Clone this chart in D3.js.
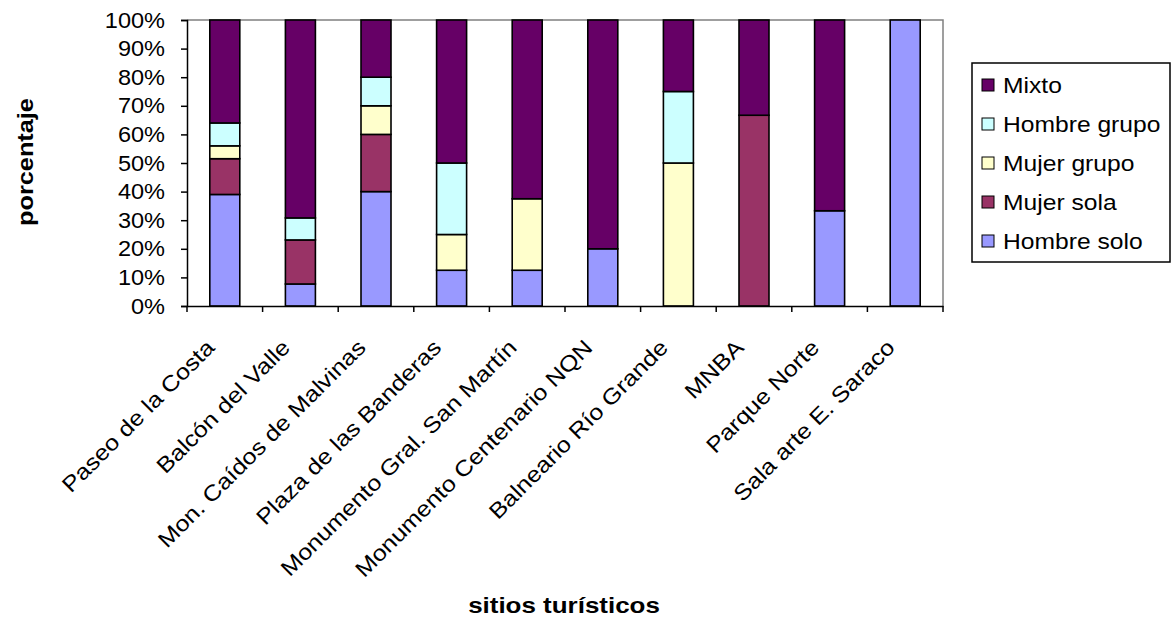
<!DOCTYPE html>
<html><head><meta charset="utf-8">
<script src="https://cdn.jsdelivr.net/npm/d3@7"></script>
<style>body{margin:0;background:#fff;} text{font-family:"Liberation Sans",Arial,sans-serif;fill:#000;}</style>
</head><body><svg id="c" width="1171" height="619"></svg>
<script>
const categories = ["Paseo de la Costa","Balcón del Valle","Mon. Caídos de Malvinas","Plaza de las Banderas","Monumento Gral. San Martín","Monumento Centenario NQN","Balneario Río Grande","MNBA","Parque Norte","Sala arte E. Saraco"];
const seriesNames = ["Hombre solo","Mujer sola","Mujer grupo","Hombre grupo","Mixto"];
const hombreSolo  = [39, 7.7, 40, 12.5, 12.5, 20, 0, 0, 33.3, 100];
const mujerSola   = [12.5, 15.4, 20, 0, 0, 0, 0, 66.7, 0, 0];
const mujerGrupo  = [4.5, 0, 10, 12.5, 25, 0, 50, 0, 0, 0];
const hombreGrupo = [8, 7.7, 10, 25, 0, 0, 25, 0, 0, 0];
const mixto       = [36, 69.2, 20, 50, 62.5, 80, 25, 33.3, 66.7, 0];
const colors = ["#9999FF","#993366","#FFFFCC","#CCFFFF","#660066"];
const yTicks = [0,10,20,30,40,50,60,70,80,90,100];

const svg = d3.select("#c");
const m = {l:187, r:943, t:20, b:306};
const xb = d3.scaleBand().domain(categories).range([m.l, m.r]);
const y = d3.scaleLinear().domain([0,100]).range([m.b, m.t]);

const table = categories.map((c,i)=>({cat:c, "Hombre solo":hombreSolo[i], "Mujer sola":mujerSola[i], "Mujer grupo":mujerGrupo[i], "Hombre grupo":hombreGrupo[i], "Mixto":mixto[i]}));
const stack = d3.stack().keys(seriesNames)(table);

// plot border
svg.append("path").attr("d",`M${m.l},${m.t}H${m.r}V${m.b}`).attr("fill","none").attr("stroke","#808080").attr("stroke-width",1.5);

stack.forEach((s,k)=>{
  svg.append("g").selectAll("rect").data(s).join("rect")
    .attr("x", d=>xb(d.data.cat)+xb.bandwidth()/2-15)
    .attr("width", 30)
    .attr("y", d=>y(d[1]))
    .attr("height", d=>y(d[0])-y(d[1]))
    .attr("fill", colors[k])
    .attr("stroke", "#000").attr("stroke-width", 1.6);
});

// y axis
const ya = svg.append("g").attr("transform",`translate(${m.l},0)`)
  .call(d3.axisLeft(y).tickValues(yTicks).tickFormat(d=>d+"%").tickSize(6).tickPadding(0));
ya.select(".domain").attr("stroke","#000").attr("stroke-width",1.5);
ya.selectAll(".tick line").attr("stroke","#000").attr("stroke-width",1.5);
ya.selectAll(".tick text").attr("font-size",22).attr("x",0)
  .attr("transform","translate(-22,0) scale(1.07,1)").attr("text-anchor","end");

// x axis
const xa = svg.append("g").attr("transform",`translate(0,${m.b})`)
  .call(d3.axisBottom(xb).tickSize(0).tickFormat(""));
xa.select(".domain").attr("stroke","#000").attr("stroke-width",1.5);
const bounds = categories.map(c=>xb(c)).concat([m.r]);
xa.selectAll(".bt").data(bounds).join("line").attr("class","bt")
  .attr("x1",d=>d).attr("x2",d=>d).attr("y1",0).attr("y2",6).attr("stroke","#000").attr("stroke-width",1.5);
svg.append("g").selectAll("text").data(categories).join("text")
  .attr("transform", d=>`translate(${xb(d)+xb.bandwidth()/2-9},${m.b+43}) rotate(-45) scale(1.14,1)`)
  .attr("text-anchor","end").attr("font-size",22).text(d=>d);

// axis titles
svg.append("text").attr("transform","translate(33,162) rotate(-90) scale(1.15,1)")
  .attr("text-anchor","middle").attr("font-weight","bold").attr("font-size",22).text("porcentaje");
svg.append("text").attr("transform","translate(564,613) scale(1.18,1)")
  .attr("text-anchor","middle").attr("font-weight","bold").attr("font-size",22).text("sitios turísticos");

// legend
const lg = svg.append("g");
lg.append("rect").attr("x",972).attr("y",63).attr("width",198).attr("height",199).attr("fill","#fff").attr("stroke","#000").attr("stroke-width",1.5);
const order = seriesNames.slice().reverse();
order.forEach((n,i)=>{
  const cy = 85 + i*39;
  lg.append("rect").attr("x",982).attr("y",cy-6).attr("width",12).attr("height",12)
    .attr("fill", colors[seriesNames.indexOf(n)]).attr("stroke","#000").attr("stroke-width",1);
  lg.append("text").attr("transform",`translate(1003,${cy}) scale(1.12,1)`).attr("dy","0.35em").attr("font-size",22).text(n);
});
</script></body></html>
